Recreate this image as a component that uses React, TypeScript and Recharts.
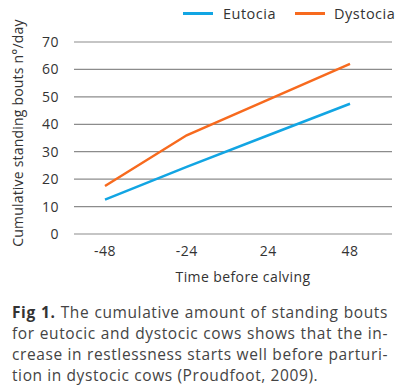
import React from "react";
import { LineChart, Line, XAxis, YAxis, CartesianGrid, Legend } from "recharts";

const categories = ["-48", "-24", "24", "48"];
const eutocia = [12.5, 24.5, 36, 47.5];
const dystocia = [17.5, 36, 49, 62];
const yTicks = [0, 10, 20, 30, 40, 50, 60, 70];

const data = categories.map((c, i) => ({ t: c, Eutocia: eutocia[i], Dystocia: dystocia[i] }));

const FONT = "'Open Sans', sans-serif";
const BLUE = "#12a5e3";
const ORANGE = "#f76a1e";

const LegendContent = () => (
  <div style={{ position: "absolute", left: 183, top: 4, display: "flex", alignItems: "center", fontFamily: FONT, fontSize: 14.5, color: "#333", whiteSpace: "nowrap", letterSpacing: 0.5 }}>
    <span style={{ display: "inline-block", width: 30, height: 3, background: BLUE, marginRight: 10 }} />
    <span style={{ marginRight: 19 }}>Eutocia</span>
    <span style={{ display: "inline-block", width: 30, height: 3, background: ORANGE, marginRight: 9 }} />
    <span>Dystocia</span>
  </div>
);

const captionLines = [
  "The cumulative amount of standing bouts",
  "for eutocic and dystocic cows shows that the in-",
  "crease in restlessness starts well before parturi-",
  "tion in dystocic cows (Proudfoot, 2009).",
];

export default function App() {
  return (
    <div style={{ position: "absolute", left: 0, top: 0, width: 400, height: 391, background: "#fff" }}>
      <div style={{ position: "relative", width: 400, height: 290 }}>
        <LineChart width={400} height={290} data={data} margin={{ top: 42, right: 8, bottom: 11, left: 0 }}>
          <CartesianGrid vertical={false} stroke="#8c8c8c" strokeWidth={1.2} />
          <XAxis
            dataKey="t"
            axisLine={false}
            tickLine={false}
            tickSize={6}
            tickMargin={6}
            padding={{ left: 31, right: 42 }}
            height={45}
            tick={{ fill: "#333", fontSize: 14, fontFamily: FONT, letterSpacing: 0.5 }}
            label={{ value: "Time before calving", position: "insideBottom", offset: -3, dx: 10, fill: "#333", fontSize: 14, fontFamily: FONT, style: { letterSpacing: 0.4 } }}
          />
          <YAxis
            domain={[0, 70]}
            ticks={yTicks}
            width={74}
            axisLine={false}
            tickLine={false}
            tickSize={6}
            tickMargin={9}
            tick={{ fill: "#333", fontSize: 14, fontFamily: FONT, letterSpacing: 0.5 }}
            label={{ value: "Cumulative standing bouts n°/day", angle: -90, position: "insideLeft", offset: 18, dy: -5, fill: "#333", fontSize: 14, fontFamily: FONT, style: { textAnchor: "middle", letterSpacing: 0.2 } }}
          />
          <Legend verticalAlign="top" content={<LegendContent />} wrapperStyle={{ top: 0, left: 0 }} />
          <Line type="linear" dataKey="Eutocia" stroke={BLUE} strokeWidth={2.5} dot={false} isAnimationActive={false} />
          <Line type="linear" dataKey="Dystocia" stroke={ORANGE} strokeWidth={2.5} dot={false} isAnimationActive={false} />
        </LineChart>
      </div>
      <div style={{ position: "absolute", left: 12, top: 302, width: 376, fontFamily: FONT, fontSize: 15.5, lineHeight: "21px", color: "#444" }}>
        {captionLines.map((line, i) => (
          <div key={i} style={{ textAlign: i < 3 ? "justify" : "left", textAlignLast: i < 3 ? "justify" : "left", whiteSpace: "nowrap", letterSpacing: 0.6 }}>
            {i === 0 && <b style={{ color: "#333" }}>Fig 1. </b>}
            {line}
          </div>
        ))}
      </div>
    </div>
  );
}
